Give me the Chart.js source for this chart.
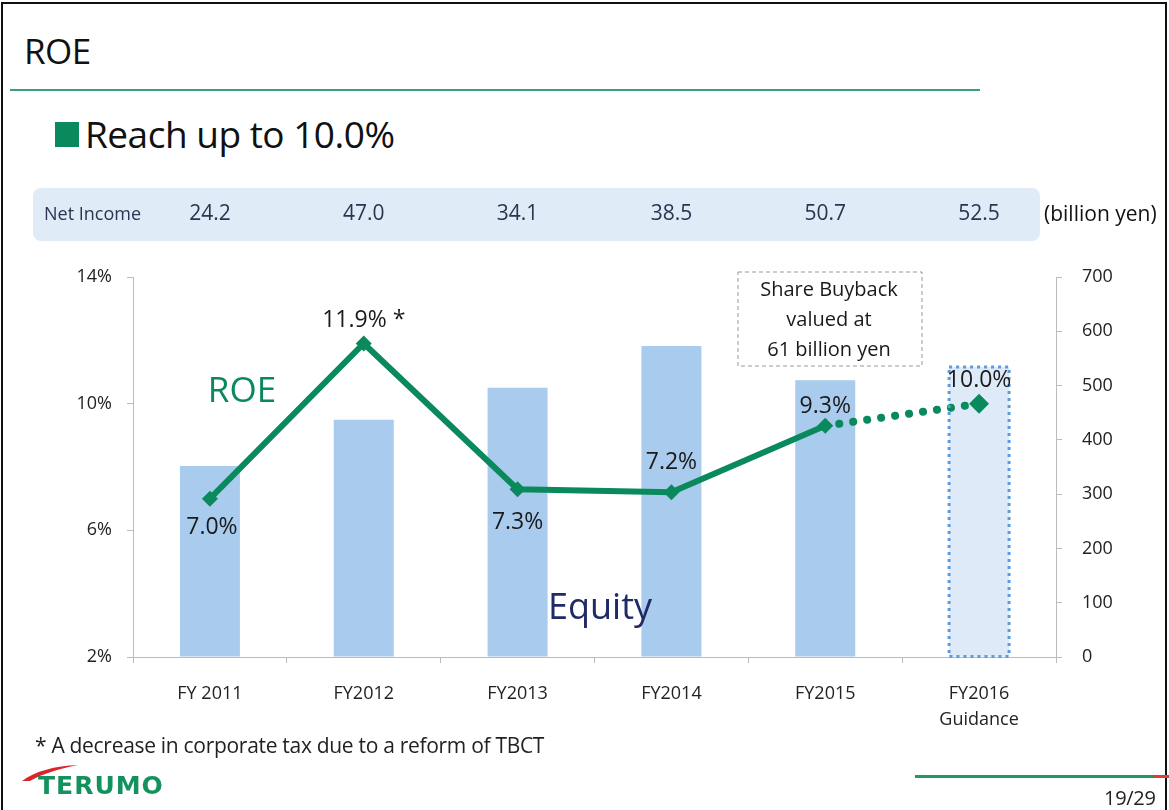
<!DOCTYPE html>
<html>
<head>
<meta charset="utf-8">
<script src="https://cdn.jsdelivr.net/npm/chart.js@4.4.0/dist/chart.umd.min.js"></script>
<style>
  html, body { margin: 0; padding: 0; background: #fff; }
  body { width: 1169px; height: 810px; position: relative; overflow: hidden; font-family: "Open Sans", "Noto Sans", sans-serif; }
  .frame { position: absolute; left: 1px; top: 2px; width: 1166px; height: 820px; border: 2px solid #111; box-sizing: border-box; }
  .title { position: absolute; left: 24px; top: 27px; font-size: 35px; color: #111; letter-spacing: -0.5px; }
  .rule { position: absolute; left: 10px; top: 89px; width: 970px; height: 2px; background: #3a9f77; }
  .sub { position: absolute; left: 55px; top: 108px; font-size: 37px; color: #111; letter-spacing: -0.5px; }
  .sub i { display: inline-block; width: 24px; height: 25px; background: #0a8a5c; margin-right: 6px; vertical-align: 1px; }
  .note { position: absolute; left: 35px; top: 731px; font-size: 21px; color: #222; letter-spacing: -0.3px; }
  .logo { position: absolute; left: 38px; top: 771px; font-family: "DejaVu Sans", sans-serif; font-weight: bold; font-size: 25px; color: #14925e; letter-spacing: 1px; }
  .swoosh { position: absolute; left: 20px; top: 763px; }
  .pgline { position: absolute; left: 915px; top: 775px; width: 240px; height: 3px; background: #1e9a62; }
  .pgred { position: absolute; left: 1154px; top: 775px; width: 15px; height: 3px; background: #e23a3a; }
  .page { position: absolute; left: 1104px; top: 784px; font-size: 20px; color: #222; letter-spacing: -0.3px; }
  canvas { position: absolute; left: 0; top: 0; }
</style>
</head>
<body>
<div class="frame"></div>
<div class="title">ROE</div>
<div class="rule"></div>
<div class="sub"><i></i>Reach up to 10.0%</div>
<div style="position:absolute;left:0;top:0;width:1169px;height:810px;">
  <canvas id="roe-chart" width="1169" height="810"></canvas>
</div>
<div class="note">* A decrease in corporate tax due to a reform of TBCT</div>
<svg class="swoosh" width="60" height="20"><path d="M2 18 C 15 8, 35 3, 58 2 C 38 6, 22 11, 10 18 Z" fill="#d9262c"/></svg>
<div class="logo">TERUMO</div>
<div class="pgline"></div>
<div class="pgred"></div>
<div class="page">19/29</div>

<script>
// données
const years = [['FY 2011'], ['FY2012'], ['FY2013'], ['FY2014'], ['FY2015'], ['FY2016', 'Guidance']];
const roeValues = [7.0, 11.9, 7.3, 7.2, 9.3, 10.0];
const roeLabels = ['7.0%', '11.9% *', '7.3%', '7.2%', '9.3%', '10.0%'];
const equityValues = [352, 437, 496, 573, 510, 534];
const netIncome = ['24.2', '47.0', '34.1', '38.5', '50.7', '52.5'];
const leftTicks = [2, 6, 10, 14];
const rightTicks = [0, 100, 200, 300, 400, 500, 600, 700];

const green = '#0a8a5c';
const barBlue = '#a9cbee';
const fam = '"Open Sans", sans-serif';

// position des étiquettes de valeur (dessus / dessous du point)
const labelOffsets = [[2, 29], [0, -23], [0, 33], [0, -30], [0, -19], [0, -23]];

const overlayPlugin = {
  id: 'overlay',
  afterDatasetsDraw(chart) {
    const ctx = chart.ctx;
    // cadre pointillé de la barre FY2016
    const bar = chart.getDatasetMeta(1).data[5];
    ctx.save();
    ctx.strokeStyle = '#5b9be0';
    ctx.lineWidth = 3;
    ctx.setLineDash([3, 4]);
    ctx.strokeRect(bar.x - bar.width / 2, bar.y, bar.width, bar.base - bar.y);
    ctx.restore();
  },
  afterDraw(chart) {
    const ctx = chart.ctx;
    const x = chart.scales.x;

    ctx.save();
    // bandeau Net Income
    ctx.fillStyle = '#e0ebf8';
    ctx.beginPath();
    ctx.roundRect(33, 188, 1007, 53, 8);
    ctx.fill();
    ctx.fillStyle = '#2b3550';
    ctx.font = '18px ' + fam;
    ctx.textBaseline = 'middle';
    ctx.textAlign = 'left';
    ctx.fillText('Net Income', 44, 215);
    ctx.font = '21px ' + fam;
    ctx.textAlign = 'center';
    netIncome.forEach((v, i) => ctx.fillText(v, x.getPixelForValue(i), 214));
    ctx.fillStyle = '#111';
    ctx.textAlign = 'left';
    ctx.font = '21px ' + fam;
    ctx.fillText('(billion yen)', 1044, 215);

    // étiquettes ROE
    const meta = chart.getDatasetMeta(0);
    ctx.fillStyle = '#1a1a1a';
    ctx.font = '23px ' + fam;
    ctx.textAlign = 'center';
    meta.data.forEach((pt, i) => {
      ctx.fillText(roeLabels[i], pt.x + labelOffsets[i][0], pt.y + labelOffsets[i][1]);
    });

    // encadré rachat d'actions
    ctx.strokeStyle = '#999';
    ctx.lineWidth = 1;
    ctx.setLineDash([4, 3]);
    ctx.strokeRect(738, 272, 184, 94);
    ctx.setLineDash([]);
    ctx.fillStyle = '#1a1a1a';
    ctx.font = '20px ' + fam;
    ctx.fillText('Share Buyback', 829, 290);
    ctx.fillText('valued at', 829, 320);
    ctx.fillText('61 billion yen', 829, 350);

    // libellés des séries
    ctx.fillStyle = green;
    ctx.font = '35px ' + fam;
    ctx.fillText('ROE', 242, 392);
    ctx.fillStyle = '#1f2a66';
    ctx.font = '36px ' + fam;
    ctx.fillText('Equity', 600, 609);
    ctx.restore();
  }
};

const chart = new Chart(document.getElementById('roe-chart'), {
  data: {
    labels: years,
    datasets: [
      {
        type: 'line',
        label: 'ROE',
        data: roeValues,
        yAxisID: 'y',
        borderColor: green,
        backgroundColor: green,
        borderWidth: 6,
        pointStyle: 'rectRot',
        pointRadius: [8, 8, 8, 8, 8, 10],
        pointBorderWidth: 0,
        tension: 0,
        order: 0,
        segment: {
          borderDash: c => c.p0DataIndex === 4 ? [0.1, 14] : undefined,
          borderCapStyle: c => c.p0DataIndex === 4 ? 'round' : 'butt',
          borderWidth: c => c.p0DataIndex === 4 ? 8 : 6
        }
      },
      {
        type: 'bar',
        label: 'Equity',
        data: equityValues,
        yAxisID: 'y1',
        backgroundColor: [barBlue, barBlue, barBlue, barBlue, barBlue, '#dfeaf8'],
        barPercentage: 0.39,
        categoryPercentage: 1,
        order: 1
      }
    ]
  },
  options: {
    responsive: false,
    animation: false,
    events: [],
    layout: { padding: { top: 277, left: 0, right: 0, bottom: 0 } },
    plugins: { legend: { display: false }, tooltip: { enabled: false } },
    scales: {
      x: {
        offset: true,
        grid: { offset: true, drawOnChartArea: false, drawTicks: true, tickLength: 6, color: '#bbb' },
        border: { color: '#bbb' },
        ticks: { color: '#222', font: { size: 18, family: fam, lineHeight: 1.45 }, padding: 18, maxRotation: 0 },
        afterFit: s => { s.height = 153; }
      },
      y: {
        position: 'left',
        min: 2, max: 14,
        afterBuildTicks: s => { s.ticks = leftTicks.map(v => ({ value: v })); },
        grid: { drawOnChartArea: false, tickLength: 6, color: '#bbb' },
        border: { color: '#bbb' },
        ticks: { color: '#222', font: { size: 18, family: fam }, padding: 15, callback: v => v + '%' },
        afterFit: s => { s.width = 133; }
      },
      y1: {
        position: 'right',
        min: 0, max: 700,
        afterBuildTicks: s => { s.ticks = rightTicks.map(v => ({ value: v })); },
        grid: { drawOnChartArea: false, tickLength: 6, color: '#bbb' },
        border: { color: '#bbb' },
        ticks: { color: '#222', font: { size: 18, family: fam }, padding: 20 },
        afterFit: s => { s.width = 113; }
      }
    }
  },
  plugins: [overlayPlugin]
});
</script>
</body>
</html>
